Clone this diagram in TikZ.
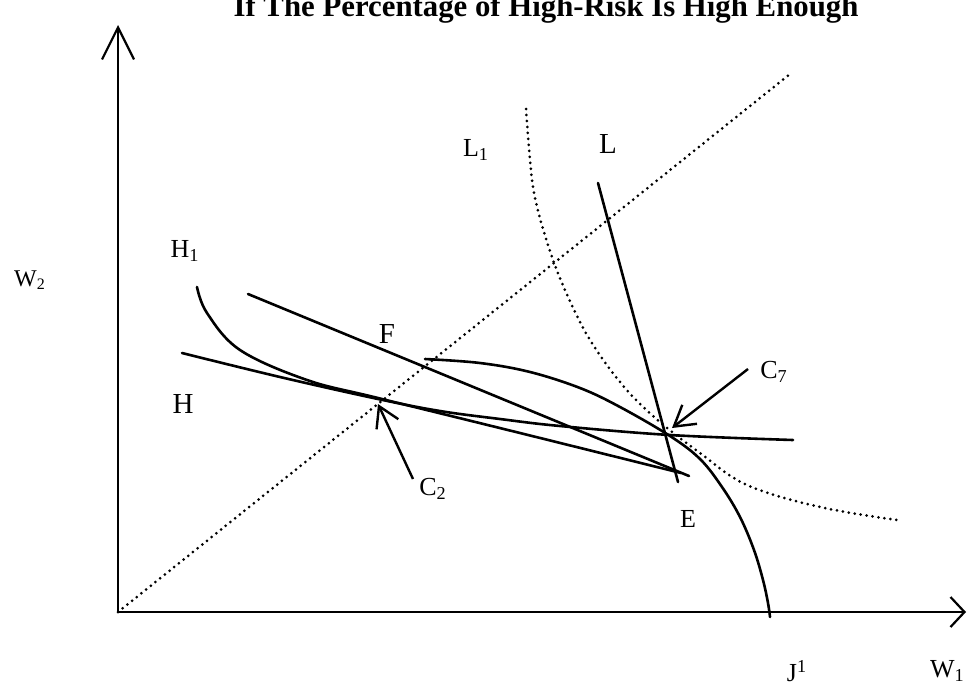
\documentclass[tikz,border=0pt]{standalone}
\usepackage{fontspec}
\setmainfont{Liberation Serif}
\usetikzlibrary{arrows.meta}

\tikzset{
  curve/.style={line width=1.3pt, line cap=round},
  dotline/.style={line width=1.5pt, line cap=round, dash pattern=on 0pt off 3pt},
  yaxis/.style={line width=1.1pt, -{Straight Barb[length=16pt, width=16pt, line width=1.1pt]}},
  xaxis/.style={line width=1.1pt, -{Straight Barb[length=7pt, width=15pt, line width=1.1pt]}},
  ptr/.style={line width=1.2pt, -{Straight Barb[length=10pt, width=12pt, line width=1.2pt]}},
  biglab/.style={font=\fontsize{14.5}{16}\selectfont},
  lab/.style={font=\fontsize{13}{15}\selectfont},
  smalllab/.style={font=\fontsize{12}{14}\selectfont}
}

\begin{document}
\begin{tikzpicture}[x=0.5pt, y=-0.5pt]
    \useasboundingbox (0,0) rectangle (967,686);

    % Title
    \node[anchor=base, font=\bfseries\fontsize{15.4}{18}\selectfont] (title) at (546,16) {If The Percentage of High-Risk Is High Enough};

    % Axes
    \coordinate (O) at (118,612);
    \coordinate (ytop) at (118,25);
    \coordinate (xend) at (966,612);
    \draw[yaxis] (O) -- (ytop);
    \draw[xaxis] (O) -- (xend);

    % 45-degree line
    \coordinate (diag) at (790,74);
    \draw[dotline] (O) -- (diag);

    % Low-risk indifference curve L1
    \draw[dotline] plot[smooth, tension=0.6] coordinates {(526,109) (530,160) (535,198) (548,245) (565,290) (590,340) (625,388) (660,422) (700,453) (747,485) (820,507) (897,520)};

    % Line L
    \coordinate (Ltop) at (598,183);
    \coordinate (Lbot) at (678,482);
    \draw[curve] (Ltop) -- (Lbot);

    % Curve J through C7
    \draw[curve] plot[smooth, tension=0.6] coordinates {(425,359) (480,363) (530,372) (580,388) (620,407) (670,436) (700,459) (722,487) (740,517) (754,550) (763,580) (768,603) (770,617)};

    % Indifference curve H
    \draw[curve] plot[smooth, tension=0.6] coordinates {(182,353) (280,377) (378,399) (440,411) (500,419) (560,426) (670,435) (793,440)};

    % Indifference curve H1
    \draw[curve] plot[smooth, tension=0.6] coordinates {(197,287) (207,313) (240,350) (307,380) (378,398) (520,433) (681,473)};

    % Line through F
    \coordinate (Ftop) at (248,294);
    \coordinate (Fbot) at (689,476);
    \draw[curve] (Ftop) -- (Fbot);

    % Labels
    \node[smalllab] (W2) at (30,280) {W\textsubscript{2}};
    \node[lab] (H1) at (185,251) {H\textsubscript{1}};
    \node[biglab] (H) at (183,404) {H};
    \node[biglab] (F) at (387,334) {F};
    \node[lab] (L1) at (476,150) {L\textsubscript{1}};
    \node[biglab] (L) at (608,144) {L};
    \node[lab] (C7) at (774,372) {C\textsubscript{7}};
    \node[lab] (C2) at (433,489) {C\textsubscript{2}};
    \node[lab] (E) at (688,519) {E};
    \node[lab] (J1) at (797,671) {J\textsuperscript{1}};
    \node[lab, anchor=west] (W1) at (923,671) {W\textsubscript{1}};

    % Pointers
    \coordinate (c7pt) at (672,428);
    \coordinate (c7tail) at (748,369);
    \draw[ptr] (c7tail) -- (c7pt);
    \coordinate (c2pt) at (378,404);
    \coordinate (c2tail) at (413,479);
    \draw[ptr] (c2tail) -- (c2pt);

\end{tikzpicture}
\end{document}
